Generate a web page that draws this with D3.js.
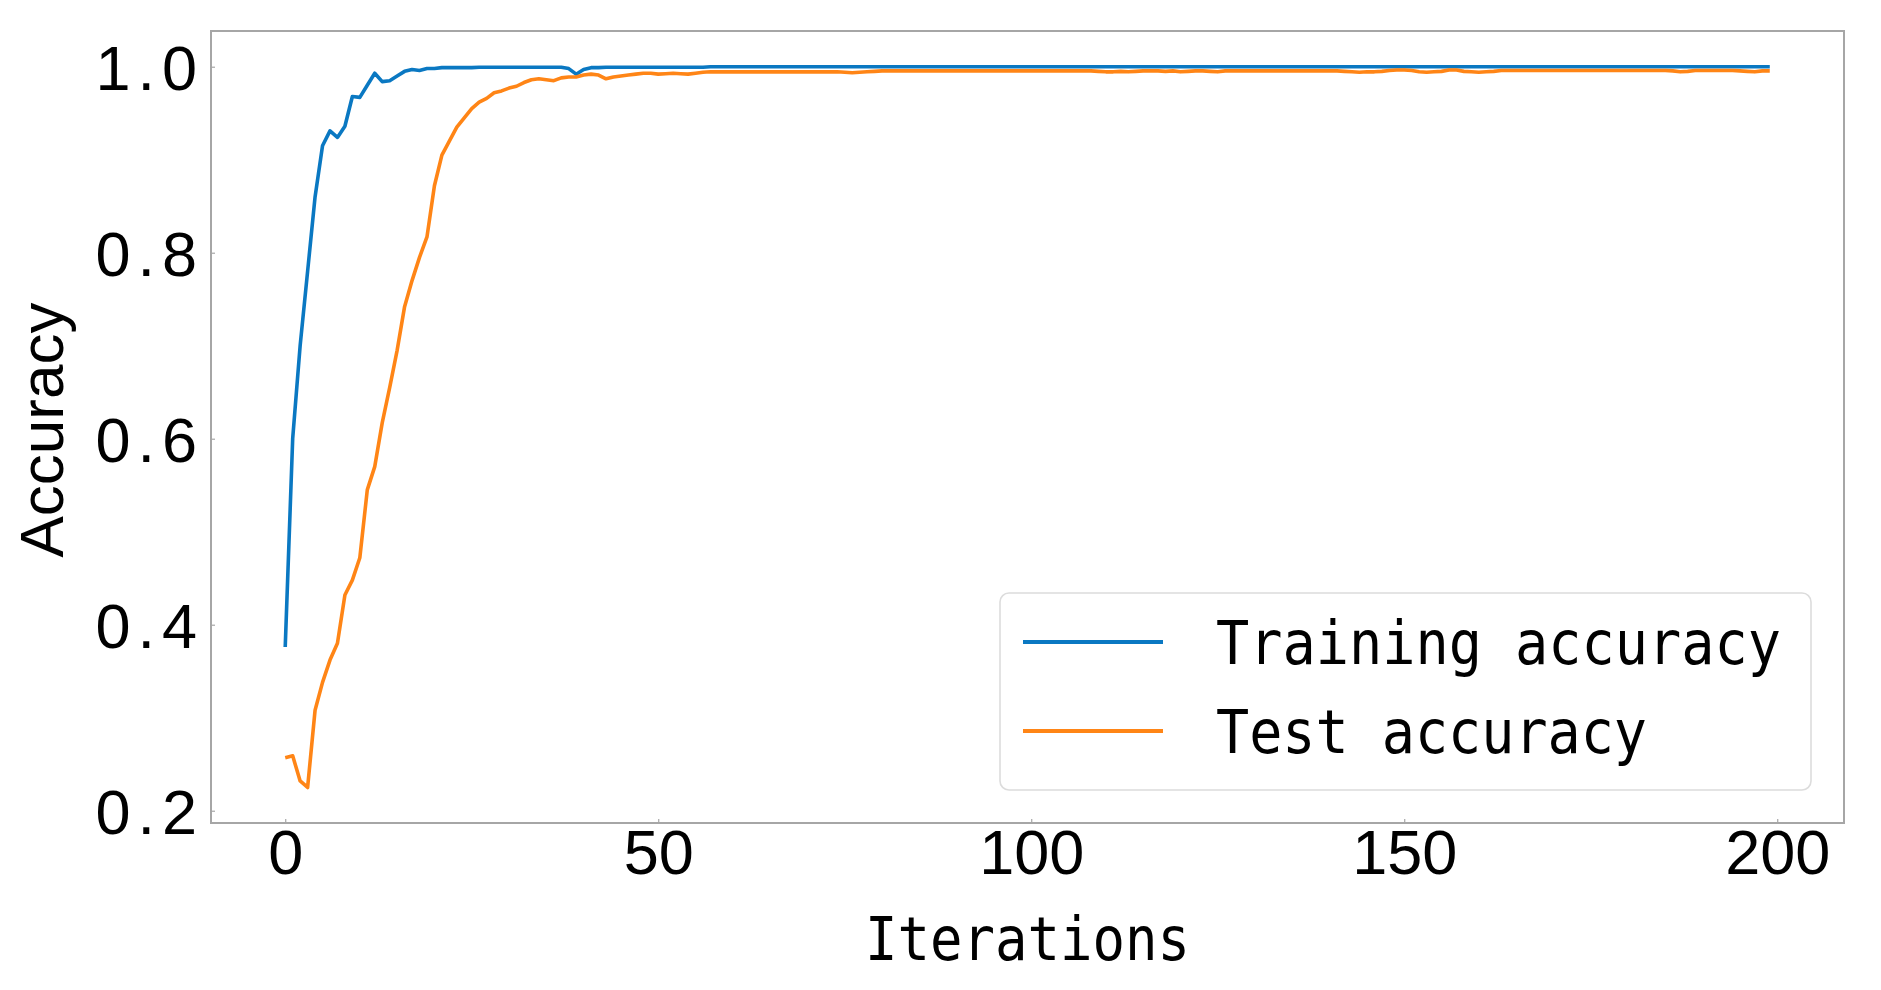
<!DOCTYPE html>
<html>
<head>
<meta charset="utf-8">
<script src="https://cdn.jsdelivr.net/npm/d3@7"></script>
<style>
  html, body { margin: 0; padding: 0; background: #fff; }
  svg { display: block; }
</style>
</head>
<body>
<svg id="chart" width="1881" height="990"></svg>
<script>
// ---------------- DATA ----------------
const seriesNames = ["Training accuracy", "Test accuracy"];
const xTicks = [0, 50, 100, 150, 200];
const yTicks = [0.2, 0.4, 0.6, 0.8, 1.0];
const yTickLabels = ["0.2", "0.4", "0.6", "0.8", "1.0"];
const xLabel = "Iterations";
const yLabel = "Accuracy";

const trainingAccuracy = [
  0.376,0.600,0.700,0.780,0.860,0.915,0.931,0.924,0.936,0.968,
  0.967,0.980,0.993,0.984,0.985,0.990,0.995,0.997,0.996,0.998,
  0.998,0.999,0.999,0.999,0.999,0.999,0.9995,0.9995,0.9995,0.9995,
  0.9995,0.9995,0.9995,0.9995,0.9995,0.9995,0.9995,0.9995,0.998,0.992,
  0.997,0.999,0.999,0.9995,0.9995,0.9995,0.9995,0.9995,0.9995,0.9995,
  0.9995,0.9995,0.9995,0.9995,0.9995,0.9995,0.9995,1.000,1.000,1.000,
  1.000,1.000,1.000,1.000,1.000,1.000,1.000,1.000,1.000,1.000,
  1.000,1.000,1.000,1.000,1.000,1.000,1.000,1.000,1.000,1.000,
  1.000,1.000,1.000,1.000,1.000,1.000,1.000,1.000,1.000,1.000,
  1.000,1.000,1.000,1.000,1.000,1.000,1.000,1.000,1.000,1.000,
  1.000,1.000,1.000,1.000,1.000,1.000,1.000,1.000,1.000,1.000,
  1.000,1.000,1.000,1.000,1.000,1.000,1.000,1.000,1.000,1.000,
  1.000,1.000,1.000,1.000,1.000,1.000,1.000,1.000,1.000,1.000,
  1.000,1.000,1.000,1.000,1.000,1.000,1.000,1.000,1.000,1.000,
  1.000,1.000,1.000,1.000,1.000,1.000,1.000,1.000,1.000,1.000,
  1.000,1.000,1.000,1.000,1.000,1.000,1.000,1.000,1.000,1.000,
  1.000,1.000,1.000,1.000,1.000,1.000,1.000,1.000,1.000,1.000,
  1.000,1.000,1.000,1.000,1.000,1.000,1.000,1.000,1.000,1.000,
  1.000,1.000,1.000,1.000,1.000,1.000,1.000,1.000,1.000,1.000,
  1.000,1.000,1.000,1.000,1.000,1.000,1.000,1.000,1.000,1.000
];

const testAccuracy = [
  0.257,0.259,0.232,0.225,0.308,0.338,0.362,0.380,0.432,0.448,
  0.472,0.545,0.570,0.617,0.655,0.695,0.742,0.770,0.795,0.817,
  0.872,0.905,0.920,0.935,0.945,0.955,0.962,0.966,0.972,0.974,
  0.977,0.979,0.983,0.986,0.987,0.986,0.985,0.988,0.989,0.989,
  0.991,0.992,0.991,0.987,0.989,0.990,0.991,0.992,0.993,0.993,
  0.992,0.9925,0.993,0.9925,0.992,0.993,0.994,0.9945,0.9945,0.9945,
  0.9945,0.9945,0.9945,0.9945,0.9945,0.9945,0.9945,0.9945,0.9945,0.9945,
  0.9945,0.9945,0.9945,0.9945,0.9945,0.994,0.9935,0.994,0.9945,0.995,
  0.9955,0.9955,0.9955,0.9955,0.9955,0.9955,0.9955,0.9955,0.9955,0.9955,
  0.9955,0.9955,0.9955,0.9955,0.9955,0.9955,0.9955,0.9955,0.9955,0.9955,
  0.9955,0.9955,0.9955,0.9955,0.9955,0.9955,0.9955,0.9955,0.9955,0.995,
  0.9945,0.9945,0.995,0.9945,0.995,0.9955,0.9955,0.9955,0.995,0.9955,
  0.9945,0.995,0.9955,0.9955,0.995,0.9945,0.9955,0.9955,0.9955,0.9955,
  0.9955,0.9955,0.9955,0.9955,0.9955,0.9955,0.9955,0.9955,0.9955,0.9955,
  0.9955,0.9955,0.995,0.9945,0.994,0.9945,0.9945,0.995,0.996,0.9965,
  0.9965,0.996,0.9945,0.994,0.9945,0.995,0.9965,0.9965,0.995,0.9945,
  0.994,0.9945,0.995,0.996,0.996,0.996,0.996,0.996,0.996,0.996,
  0.996,0.996,0.996,0.996,0.996,0.996,0.996,0.996,0.996,0.996,
  0.996,0.996,0.996,0.996,0.996,0.996,0.9955,0.9945,0.995,0.996,
  0.996,0.996,0.996,0.996,0.996,0.9955,0.995,0.9945,0.9955,0.9955
];

const colors = ["#0a78c2", "#ff8516"];

// ---------------- LAYOUT ----------------
const plot = { left: 211, right: 1844, top: 31, bottom: 823 };
const svg = d3.select("#chart");

const x = d3.scaleLinear().domain([-9.95, 208.95]).range([plot.left, plot.right]);
const y = d3.scaleLinear().domain([0.1868, 1.0384]).range([plot.bottom, plot.top]);

const series = [trainingAccuracy, testAccuracy];

svg.append("clipPath").attr("id", "clip")
  .append("rect").attr("x", plot.left).attr("y", plot.top)
  .attr("width", plot.right - plot.left).attr("height", plot.bottom - plot.top);

const line = d3.line().x((d, i) => x(i)).y(d => y(d));
const g = svg.append("g").attr("clip-path", "url(#clip)");
series.forEach((s, k) => {
  g.append("path").datum(s)
    .attr("d", line)
    .attr("fill", "none")
    .attr("stroke", colors[k])
    .attr("stroke-width", 3.6)
    .attr("stroke-linejoin", "round");
});

// Axes (inward ticks)
const axisColor = "#a6a6a6";
const xAxis = d3.axisBottom(x).tickValues(xTicks).tickSize(-4).tickPadding(10)
  .tickFormat(d3.format("d"));
const gx = svg.append("g").attr("transform", `translate(0,${plot.bottom})`).call(xAxis);
gx.select(".domain").remove();
gx.selectAll(".tick line").attr("stroke", axisColor).attr("stroke-width", 1.2);
gx.selectAll(".tick text")
  .attr("fill", "#000")
  .attr("font-family", "'Liberation Sans', Arial, sans-serif")
  .attr("font-size", 63)
  .attr("dy", null)
  .attr("y", 51);

const yAxis = d3.axisLeft(y).tickValues(yTicks).tickSize(-4).tickPadding(8)
  .tickFormat((d, i) => yTickLabels[i]);
const gy = svg.append("g").attr("transform", `translate(${plot.left},0)`).call(yAxis);
gy.select(".domain").remove();
gy.selectAll(".tick line").attr("stroke", axisColor).attr("stroke-width", 1.2);
gy.selectAll(".tick text")
  .attr("fill", "#000")
  .attr("font-family", "'Liberation Sans', Arial, sans-serif")
  .attr("font-size", 63)
  .attr("x", -7)
  .attr("dy", "0.36em")
  .attr("letter-spacing", 7);

// Frame (spines)
svg.append("rect")
  .attr("x", plot.left).attr("y", plot.top)
  .attr("width", plot.right - plot.left).attr("height", plot.bottom - plot.top)
  .attr("fill", "none").attr("stroke", axisColor).attr("stroke-width", 2);

// Axis labels
svg.append("text")
  .attr("x", (plot.left + plot.right) / 2).attr("y", 960)
  .attr("text-anchor", "middle")
  .attr("font-family", "'DejaVu Sans Mono', monospace")
  .attr("font-size", 60)
  .attr("textLength", 325).attr("lengthAdjust", "spacingAndGlyphs")
  .attr("fill", "#000")
  .text(xLabel);

svg.append("text")
  .attr("transform", `translate(63,${(plot.top + plot.bottom) / 2 + 3}) rotate(-90)`)
  .attr("text-anchor", "middle")
  .attr("font-family", "'Liberation Sans', Arial, sans-serif")
  .attr("font-size", 62)
  .attr("fill", "#000")
  .text(yLabel);

// Legend
const legend = svg.append("g");
legend.append("rect")
  .attr("x", 1000).attr("y", 593).attr("width", 811).attr("height", 197)
  .attr("rx", 9).attr("ry", 9)
  .attr("fill", "#fff").attr("stroke", "#dcdcdc").attr("stroke-width", 1.6);
const legY = [642, 731];
const legLens = [565, 431];
seriesNames.forEach((name, k) => {
  legend.append("line")
    .attr("x1", 1023).attr("x2", 1163)
    .attr("y1", legY[k]).attr("y2", legY[k])
    .attr("stroke", colors[k]).attr("stroke-width", 4);
  legend.append("text")
    .attr("x", 1216).attr("y", legY[k] + 22)
    .attr("font-family", "'DejaVu Sans Mono', monospace")
    .attr("font-size", 60)
    .attr("textLength", legLens[k]).attr("lengthAdjust", "spacingAndGlyphs")
    .attr("fill", "#000")
    .text(name);
});
</script>
</body>
</html>
